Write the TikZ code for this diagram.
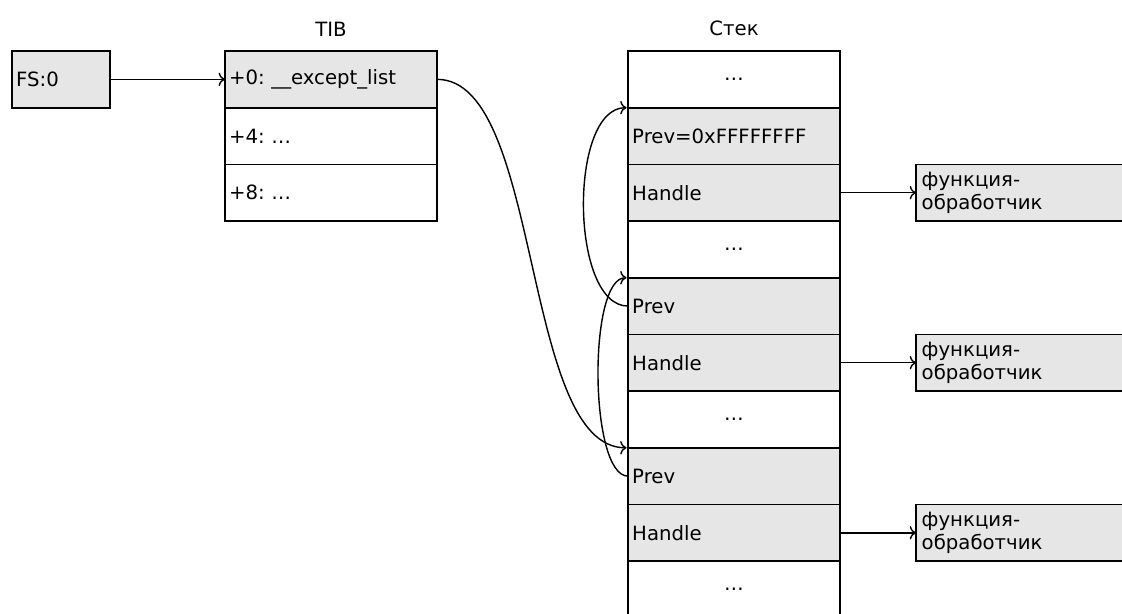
\documentclass[tikz,border=0pt]{standalone}
\usepackage{fontspec}
\setmainfont{DejaVu Sans}
\frenchspacing
\usetikzlibrary{positioning, arrows.meta}
\definecolor{cellgray}{HTML}{E6E6E6}
\tikzset{cell/.style={draw, line width=1.2pt, outer sep=0pt, inner xsep=3pt, minimum width=5.3cm, minimum height=1.4167cm, text width=5.09cm, align=left, font=\fontsize{14}{16.5}\selectfont},
gcell/.style={cell, fill=cellgray},
dots/.style={cell, align=center},
hbox/.style={gcell, minimum width=0pt, text width=4.9cm, inner xsep=4pt},
title/.style={font=\fontsize{14}{16.5}\selectfont},
ptr/.style={-{To[scale=1.2]}, line width=1pt}}
\begin{document}
\begin{tikzpicture}[x=0.025cm, y=-0.025cm]
  \clip (0,0) rectangle (1122,613);
  % FS register
  \node[gcell, minimum width=2.45cm, text width=2.24cm, anchor=north west] (fs) at (12,51) {FS:0};
  % TIB
  \node[gcell, anchor=north west] (tib0) at (225,51) {+0: \_\_except\_list};
  \node[cell, below=0pt of tib0] (tib4) {+4: …};
  \node[cell, below=0pt of tib4] (tib8) {+8: …};
  \node[title, above=0.25cm of tib0] (tibt) {TIB};
  % stack
  \node[dots, anchor=north west] (s1) at (628,51) {…};
  \node[gcell, below=0pt of s1] (s2) {Prev=0xFFFFFFFF};
  \node[gcell, below=0pt of s2] (s3) {Handle};
  \node[dots, below=0pt of s3] (s4) {…};
  \node[gcell, below=0pt of s4] (s5) {Prev};
  \node[gcell, below=0pt of s5] (s6) {Handle};
  \node[dots, below=0pt of s6] (s7) {…};
  \node[gcell, below=0pt of s7] (s8) {Prev};
  \node[gcell, below=0pt of s8] (s9) {Handle};
  \node[dots, below=0pt of s9] (s10) {…};
  \node[title, above=0.25cm of s1] (stackt) {Стек};
  % handlers
  \node[hbox, right=1.9cm of s3] (h1) {функция-\\обработчик};
  \node[hbox, right=1.9cm of s6] (h2) {функция-\\обработчик};
  \node[hbox, right=1.9cm of s9] (h3) {функция-\\обработчик};
  % pointers
  \draw[ptr] (fs) -- (tib0);
  \draw[ptr] (tib0.east) to[out=0, in=180, looseness=0.65] ([xshift=-1pt]s8.north west);
  \draw[ptr] (s5.west) to[out=180, in=180, looseness=0.75] ([xshift=-1pt]s2.north west);
  \draw[ptr] (s8.west) to[out=180, in=180, looseness=0.5] ([xshift=-1pt]s5.north west);
  \draw[ptr] (s3) -- (h1);
  \draw[ptr] (s6) -- (h2);
  \draw[ptr] (s9) -- (h3);
\end{tikzpicture}
\end{document}
